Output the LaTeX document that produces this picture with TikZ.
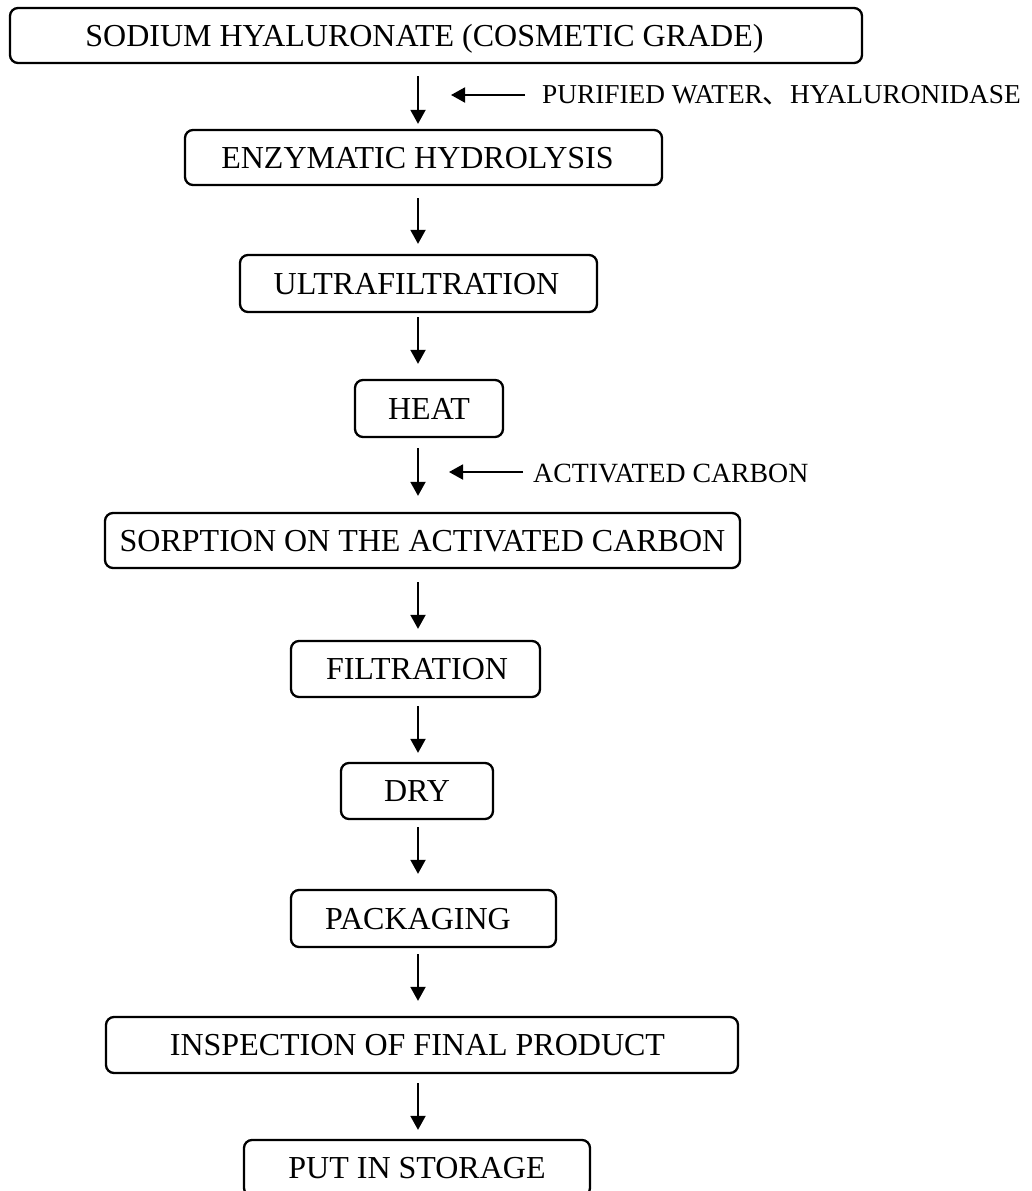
\documentclass[tikz,border=0pt]{standalone}
\usepackage{fontspec}
\setmainfont{Liberation Serif}
\newfontfamily\cjkfont{Noto Sans CJK SC}
\usetikzlibrary{arrows.meta}

\begin{document}
\begin{tikzpicture}[x=1pt,y=-1pt,
  stepbox/.style={draw, line width=2.3pt, rounded corners=8pt, inner sep=0pt,
    font=\fontsize{32}{37}\selectfont, text height=21pt, text depth=0pt},
  flow/.style={line width=1.9pt, -{Triangle[width=15pt,length=14pt]}},
  feed/.style={font=\fontsize{27.8}{33}\selectfont, anchor=base west, inner sep=0pt}]
\clip (0,0) rectangle (1032,1191);
\fill[white] (0,0) rectangle (1032,1191);
\coordinate (axis) at (418,0);

% process steps
\node[stepbox, minimum width=852pt, minimum height=55pt] (s1) at (436,35.5)
  {SODIUM HYALURONATE (COSMETIC GRADE)\kern23pt};
\node[stepbox, minimum width=477pt, minimum height=55pt] (s2) at (423.5,157.5)
  {ENZYMATIC HYDROLYSIS\kern12pt};
\node[stepbox, minimum width=357pt, minimum height=57pt] (s3) at (418.5,283.5)
  {ULTRAFILTRATION\kern4pt};
\node[stepbox, minimum width=148pt, minimum height=57pt] (s4) at (429,408.5)
  {HEAT};
\node[stepbox, minimum width=635pt, minimum height=55pt] (s5) at (422.5,540.5)
  {SORPTION ON THE ACTIVATED CARBON};
\node[stepbox, minimum width=249pt, minimum height=56pt] (s6) at (415.5,669)
  {\kern3pt FILTRATION};
\node[stepbox, minimum width=152pt, minimum height=56pt] (s7) at (417,791)
  {DRY};
\node[stepbox, minimum width=265pt, minimum height=57pt] (s8) at (423.5,918.5)
  {PACKAGING\kern11pt};
\node[stepbox, minimum width=632pt, minimum height=56pt] (s9) at (422,1045)
  {INSPECTION OF FINAL PRODUCT\kern9pt};
\node[stepbox, minimum width=346pt, minimum height=56pt] (s10) at (417,1168)
  {PUT IN STORAGE};

% main flow
\draw[flow, shorten <=12pt, shorten >=5pt]  (s1.south -| axis) -- (s2.north -| axis);
\draw[flow, shorten <=12pt, shorten >=10pt] (s2.south -| axis) -- (s3.north -| axis);
\draw[flow, shorten <=4pt,  shorten >=15pt] (s3.south -| axis) -- (s4.north -| axis);
\draw[flow, shorten <=10pt, shorten >=16pt] (s4.south -| axis) -- (s5.north -| axis);
\draw[flow, shorten <=13pt, shorten >=11pt] (s5.south -| axis) -- (s6.north -| axis);
\draw[flow, shorten <=8pt,  shorten >=9pt]  (s6.south -| axis) -- (s7.north -| axis);
\draw[flow, shorten <=7pt,  shorten >=15pt] (s7.south -| axis) -- (s8.north -| axis);
\draw[flow, shorten <=6pt,  shorten >=15pt] (s8.south -| axis) -- (s9.north -| axis);
\draw[flow, shorten <=9pt,  shorten >=9pt]  (s9.south -| axis) -- (s10.north -| axis);

% added materials
\node[feed, font=\fontsize{27.3}{33}\selectfont] (f1) at (542,103.5)
  {PURIFIED WATER{\cjkfont 、}HYALURONIDASE};
\coordinate (t1) at (525,95);
\coordinate (h1) at (451,95);
\draw[flow] (t1) -- (h1);

\node[feed] (f2) at (533,482) {ACTIVATED CARBON};
\coordinate (t2) at (523,472);
\coordinate (h2) at (449,472);
\draw[flow] (t2) -- (h2);
\end{tikzpicture}
\end{document}
